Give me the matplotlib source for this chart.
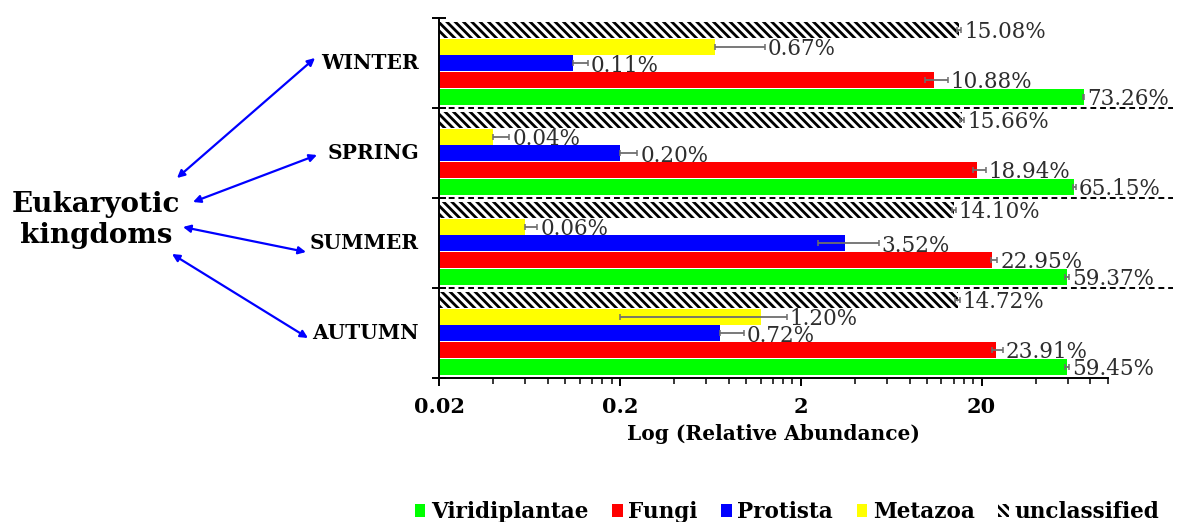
import matplotlib
matplotlib.use("Agg")
import matplotlib.pyplot as plt
from matplotlib.ticker import FixedLocator, NullFormatter

plt.rcParams['font.family'] = 'DejaVu Serif'
plt.rcParams['hatch.linewidth'] = 2.0

# seasons top to bottom
seasons = ['WINTER', 'SPRING', 'SUMMER', 'AUTUMN']

# relative abundance (%) per kingdom, one value per season
viridiplantae = [73.26, 65.15, 59.37, 59.45]
fungi = [10.88, 18.94, 22.95, 23.91]
protista = [0.11, 0.20, 3.52, 0.72]
metazoa = [0.67, 0.04, 0.06, 1.20]
unclassified = [15.08, 15.66, 14.10, 14.72]

# error bars (lower, upper)
viri_err = [[0.8, 1.5, 1.5, 1.5], [0.8, 1.5, 1.5, 1.5]]
fungi_err = [[1.2, 1.1, 0.5, 1.0], [2.1, 2.1, 1.5, 2.2]]
prot_err = [[0.0, 0.0, 1.04, 0.0], [0.023, 0.05, 1.88, 0.25]]
meta_err = [[0.0, 0.0, 0.0, 1.0], [0.6, 0.009, 0.01, 0.47]]
uncl_err = [[0.4, 0.4, 0.3, 0.4], [0.4, 0.4, 0.3, 0.4]]

x0 = 0.02
x1 = 100

fig = plt.figure(figsize=(11.81, 5.22), dpi=100)
ax = fig.add_axes([439 / 1181, 1 - 378 / 522, (1108 - 439) / 1181, 360 / 522])
ax.set_xscale('log')

# bars inside each group, top to bottom
series = [
    ('unclassified', unclassified, uncl_err, 'white'),
    ('Metazoa', metazoa, meta_err, '#ffff00'),
    ('Protista', protista, prot_err, '#0000ff'),
    ('Fungi', fungi, fungi_err, '#ff0000'),
    ('Viridiplantae', viridiplantae, viri_err, '#00ff00'),
]
n = len(seasons)
bar_h = 0.178
step = 0.186
handles = {}
for k, (name, vals, err, col) in enumerate(series):
    ys = [n - i - (0.133 + k * step) for i in range(n)]
    widths = [v - x0 for v in vals]
    if name == 'unclassified':
        b = ax.barh(ys, widths, left=x0, height=bar_h, color='white',
                    edgecolor='black', hatch='\\\\\\\\', linewidth=0, label=name)
    else:
        b = ax.barh(ys, widths, left=x0, height=bar_h, color=col,
                    linewidth=0, label=name)
    handles[name] = b
    ax.errorbar(vals, ys, xerr=err, fmt='none', ecolor='#6e6e6e',
                elinewidth=1.3, capsize=2.5, capthick=1.1, zorder=3)
    for v, up, y in zip(vals, err[1], ys):
        ax.annotate('%.2f%%' % v, xy=(v + up, y), xytext=(2, -1.5),
                    textcoords='offset points', ha='left', va='center',
                    fontsize=15.5, color='#2e2e2e')

ax.set_xlim(x0, x1)
ax.set_ylim(0, n)

# dashed separators between seasons
for i in range(1, n):
    ax.axhline(i, xmin=0, xmax=(1173 - 439) / (1108 - 439), color='black',
               lw=1.4, ls=(0, (3, 2)), clip_on=False, zorder=4)

# season names next to each group
for i, s in enumerate(seasons):
    ax.text(-0.03, n - i - 0.5, s, transform=ax.get_yaxis_transform(),
            ha='right', va='center', fontsize=14.5, fontweight='bold')

ax.spines['top'].set_visible(False)
ax.spines['right'].set_visible(False)
ax.spines['left'].set_linewidth(1.4)
ax.spines['bottom'].set_linewidth(1.4)

ax.set_yticks(range(n + 1))
ax.set_yticklabels([])
ax.tick_params(axis='y', direction='inout', length=10, width=1.4)

major = [0.02, 0.2, 2, 20]
minor = [0.02 * m * 10 ** e for e in range(4) for m in range(2, 10)
         if 0.02 * m * 10 ** e <= x1 * 1.001]
ax.xaxis.set_major_locator(FixedLocator(major))
ax.xaxis.set_minor_locator(FixedLocator(minor))
ax.xaxis.set_minor_formatter(NullFormatter())
ax.set_xticklabels(['0.02', '0.2', '2', '20'], fontsize=15, fontweight='bold')
ax.tick_params(axis='x', which='major', direction='out', length=6, width=1.4, pad=8)
ax.tick_params(axis='x', which='minor', direction='out', length=4, width=1.1)
ax.set_xlabel('Log (Relative Abundance)', fontsize=14.5, fontweight='bold', labelpad=5)

# left-hand label with arrows out to the seasons
fig.text(96 / 1181, 1 - 220 / 522, 'Eukaryotic\nkingdoms', ha='center', va='center',
         fontsize=20, fontweight='bold', linespacing=1.2)
arrows = [((177, 178), (315, 58)),
          ((193, 202), (317, 155)),
          ((183, 227), (306, 252)),
          ((172, 254), (308, 338))]
for (ax_, ay_), (bx_, by_) in arrows:
    ax.annotate('', xy=(bx_, 522 - by_), xytext=(ax_, 522 - ay_),
                xycoords='figure pixels', textcoords='figure pixels',
                arrowprops=dict(arrowstyle='<|-|>', color='#0000ff', lw=1.6,
                                mutation_scale=11, shrinkA=0, shrinkB=0))

order = ['Viridiplantae', 'Fungi', 'Protista', 'Metazoa', 'unclassified']
fig.legend([handles[o] for o in order], order, loc='center', ncol=5,
           bbox_to_anchor=(787 / 1181, 10 / 522), frameon=False,
           prop={'size': 15.5, 'weight': 'bold'}, handlelength=0.5,
           handleheight=0.6, handletextpad=0.25, columnspacing=1.1)

fig.savefig('out.png', dpi=100)
